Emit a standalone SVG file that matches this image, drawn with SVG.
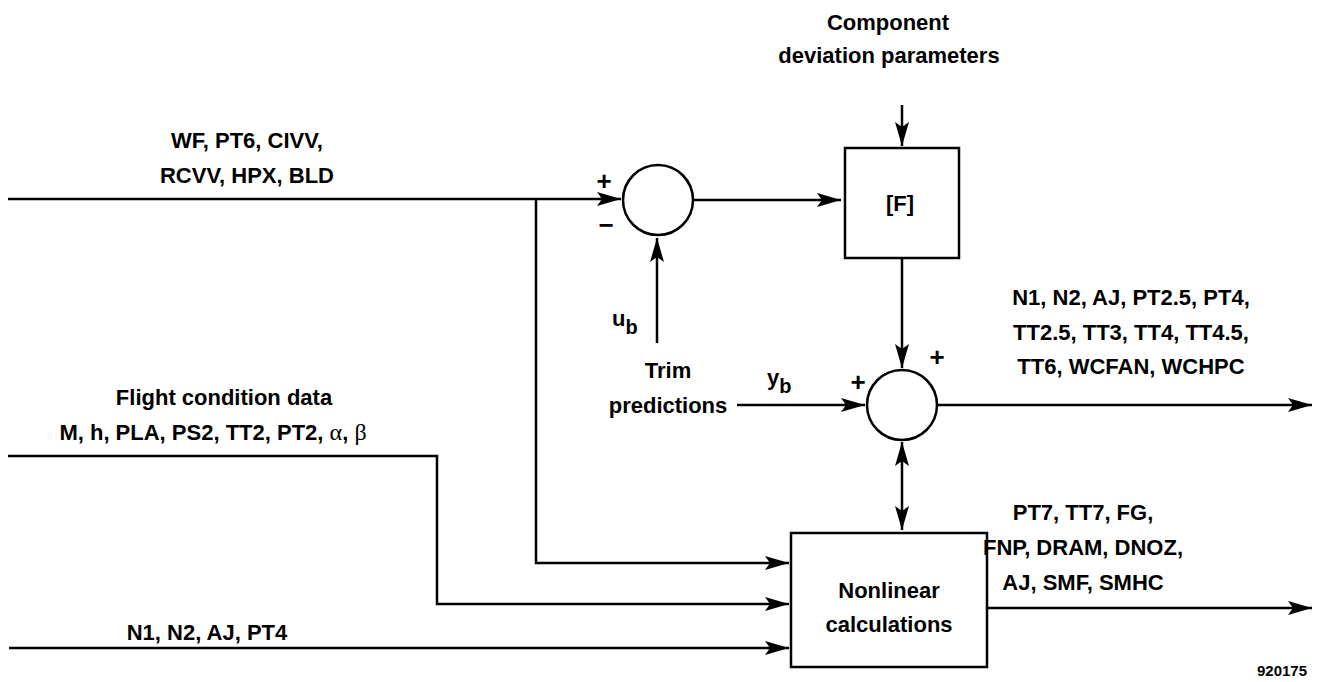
<svg xmlns="http://www.w3.org/2000/svg" width="1317" height="682" viewBox="0 0 1317 682">
<style>
  text { font-family: "Liberation Sans", Arial, sans-serif; font-weight: bold; fill: #000; font-size: 22px; text-anchor: middle; }
  .sign { font-size: 26px; }
  .sub { font-size: 20px; }
  .ln { fill: none; stroke: #000; stroke-width: 2.5; }
  .box { fill: #fff; stroke: #000; stroke-width: 2.5; }
  .greek { font-family: "Liberation Serif", "Times New Roman", serif; font-weight: normal; font-size: 24px; }
</style>
<defs>
  <marker id="ah" markerUnits="userSpaceOnUse" markerWidth="26" markerHeight="14" refX="24" refY="7" orient="auto-start-reverse">
    <path d="M0,0 L24,7 L0,14 L5,7 Z" fill="#000"/>
  </marker>
</defs>
<rect width="1317" height="682" fill="#fff"/>

<g id="connectors">
  <path class="ln" d="M8,199 H621" marker-end="url(#ah)"/>
  <path class="ln" d="M536,199 V563 H789" marker-end="url(#ah)"/>
  <path class="ln" d="M8,456 H437 V604 H789" marker-end="url(#ah)"/>
  <path class="ln" d="M9,648 H789" marker-end="url(#ah)"/>
  <path class="ln" d="M693,200 H841" marker-end="url(#ah)"/>
  <path class="ln" d="M902,105 V146" marker-end="url(#ah)"/>
  <path class="ln" d="M902,258 V368" marker-end="url(#ah)"/>
  <path class="ln" d="M657,343 V238" marker-end="url(#ah)"/>
  <path class="ln" d="M737,405 H865" marker-end="url(#ah)"/>
  <path class="ln" d="M902,442 V530" marker-start="url(#ah)" marker-end="url(#ah)"/>
  <path class="ln" d="M937,405 H1312" marker-end="url(#ah)"/>
  <path class="ln" d="M987,608 H1312" marker-end="url(#ah)"/>
</g>

<g id="sum1">
  <circle class="box" cx="658" cy="200" r="35"/>
  <text class="sign" x="604" y="190">+</text>
  <text class="sign" x="606" y="234">−</text>
</g>

<g id="sum2">
  <circle class="box" cx="902" cy="405" r="35"/>
  <text class="sign" x="858" y="391">+</text>
  <text class="sign" x="937" y="366">+</text>
</g>

<g id="F">
  <rect class="box" x="845" y="148" width="114" height="110"/>
  <text x="900" y="211">[F]</text>
</g>

<g id="nonlinear">
  <rect class="box" x="791" y="533" width="196" height="134"/>
  <text x="889" y="598">Nonlinear</text>
  <text x="889" y="632">calculations</text>
</g>

<g id="component">
  <text x="888" y="30">Component</text>
  <text x="889" y="63">deviation parameters</text>
</g>

<g id="trim">
  <text x="668" y="378">Trim</text>
  <text x="668" y="413">predictions</text>
</g>

<g id="labels">
  <text x="247" y="148">WF, PT6, CIVV,</text>
  <text x="247" y="183">RCVV, HPX, BLD</text>
  <text x="224" y="405">Flight condition data</text>
  <text x="213" y="440">M, h, PLA, PS2, TT2, PT2, <tspan class="greek">α</tspan>, <tspan class="greek">β</tspan></text>
  <text x="207" y="640">N1, N2, AJ, PT4</text>
  <text x="612" y="326" style="text-anchor:start">u<tspan class="sub" dy="8">b</tspan></text>
  <text x="767" y="385" style="text-anchor:start">y<tspan class="sub" dy="8">b</tspan></text>
  <text x="1131" y="305">N1, N2, AJ, PT2.5, PT4,</text>
  <text x="1131" y="340">TT2.5, TT3, TT4, TT4.5,</text>
  <text x="1131" y="374">TT6, WCFAN, WCHPC</text>
  <text x="1083" y="520">PT7, TT7, FG,</text>
  <text x="1083" y="555">FNP, DRAM, DNOZ,</text>
  <text x="1083" y="590">AJ, SMF, SMHC</text>
  <text x="1282" y="676" style="font-size:15px">920175</text>
</g>
</svg>
